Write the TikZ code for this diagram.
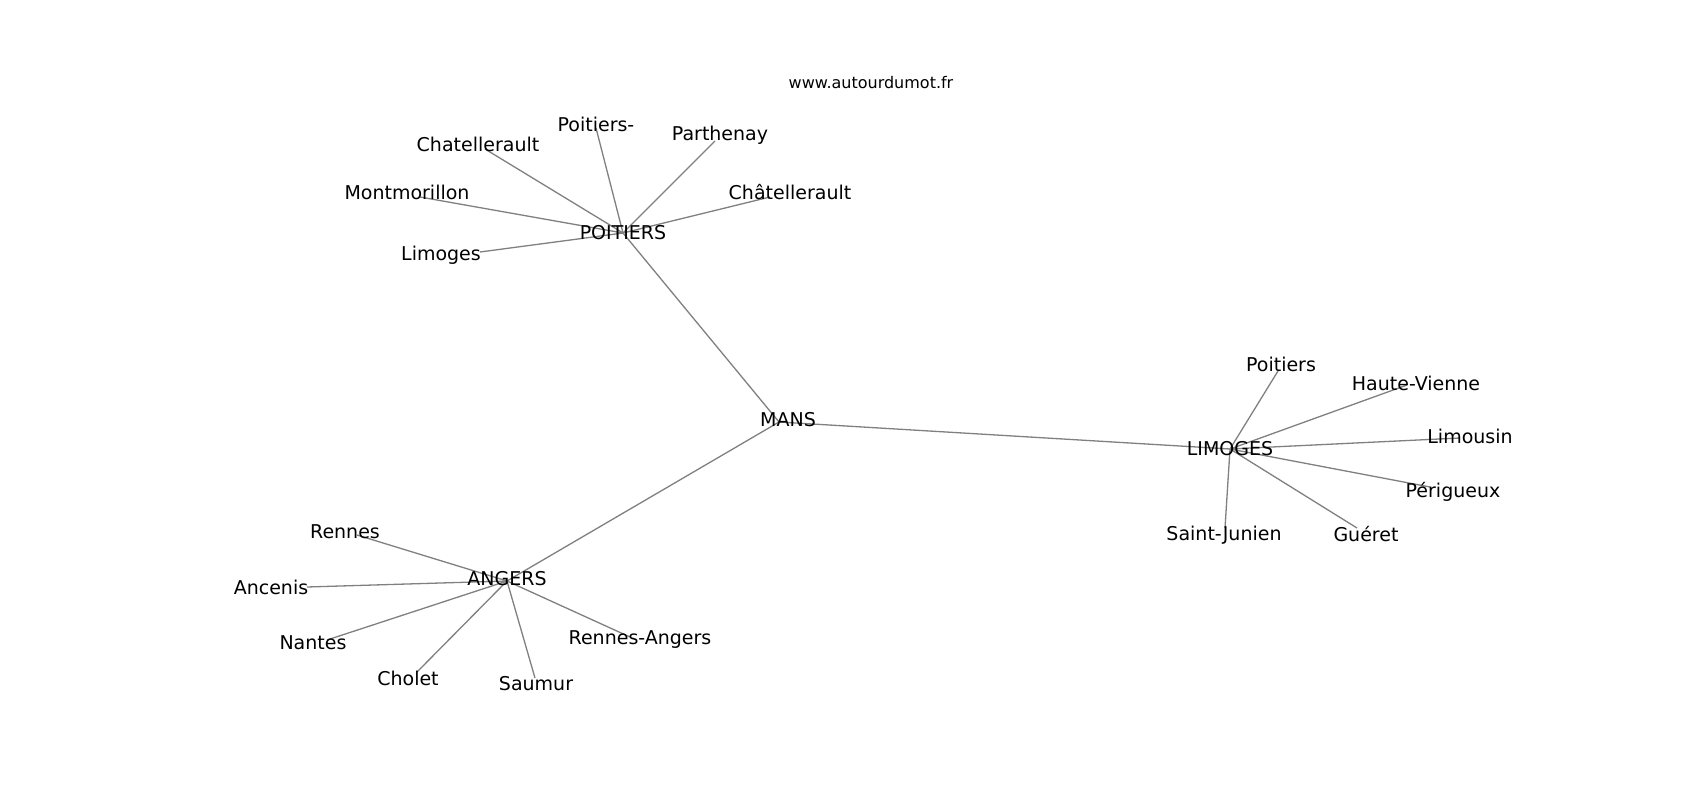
\documentclass[tikz,border=0pt]{standalone}
\usepackage{fontspec}
\setmainfont{DejaVu Sans}
\usetikzlibrary{backgrounds}
\pgfdeclarelayer{bottom}
\pgfsetlayers{bottom,background,main}
\tikzset{
  lbl/.style={inner sep=0pt, font=\fontsize{19}{19}\selectfont, text=black},
  hub/.style={lbl},
  edge/.style={draw=black!50, line width=1.3pt},
  credit/.style={inner sep=0pt, font=\fontsize{16}{16}\selectfont}
}
\begin{document}
\begin{tikzpicture}[x=1pt,y=-1pt]
\useasboundingbox (0,0) rectangle (1700,800);
\begin{pgfonlayer}{bottom}
\fill[white] (0,0) rectangle (1700,800);
\end{pgfonlayer}

\node[credit] (www) at (871,83) {www.autourdumot.fr};

% hubs
\node[hub] (poi) at (623,233) {POITIERS};
\node[hub] (mans) at (788,420) {MANS};
\coordinate (mansc) at (779,422);
\node[hub] (lim) at (1230,449) {LIMOGES};
\node[hub] (ang) at (507,579) {ANGERS};
\coordinate (angc) at (507,581);

% POITIERS leaves
\node[lbl] (p1) at (478,144) {Chatellerault};   \coordinate (p1e) at (485,149);
\node[lbl] (p2) at (596,124) {Poitiers-};       \coordinate (p2e) at (596,128);
\node[lbl] (p3) at (720,135) {Parthenay};       \coordinate (p3e) at (715,141);
\node[lbl] (p4) at (407,192) {Montmorillon};    \coordinate (p4e) at (420,197);
\node[lbl] (p5) at (790,192) {Châtellerault};   \coordinate (p5e) at (770,197);
\node[lbl] (p6) at (441,255) {Limoges};         \coordinate (p6e) at (480,252);

% LIMOGES leaves
\node[lbl] (l1) at (1281,364) {Poitiers};       \coordinate (l1e) at (1278,371);
\node[lbl] (l2) at (1416,383) {Haute-Vienne};   \coordinate (l2e) at (1407,385);
\node[lbl] (l3) at (1470,436) {Limousin};       \coordinate (l3e) at (1460,438);
\node[lbl] (l4) at (1453,492) {Périgueux};      \coordinate (l4e) at (1430,487);
\node[lbl] (l5) at (1366,534) {Guéret};         \coordinate (l5e) at (1357,528);
\node[lbl] (l6) at (1224,535) {Saint-Junien};   \coordinate (l6e) at (1225,528);

% ANGERS leaves
\node[lbl] (a1) at (345,532) {Rennes};          \coordinate (a1e) at (357,535);
\node[lbl] (a2) at (271,587) {Ancenis};         \coordinate (a2e) at (307,587);
\node[lbl] (a3) at (313,643) {Nantes};          \coordinate (a3e) at (327,640);
\node[lbl] (a4) at (408,678) {Cholet};          \coordinate (a4e) at (417,672);
\node[lbl] (a5) at (640,640) {Rennes-Angers};   \coordinate (a5e) at (630,637);
\node[lbl] (a6) at (536,684) {Saumur};          \coordinate (a6e) at (535,678);

\begin{pgfonlayer}{background}
\draw[edge] (mansc) -- (poi.center);
\draw[edge] (mansc) -- (lim.center);
\draw[edge] (mansc) -- (angc);
\foreach \i in {1,...,6} {
  \draw[edge] (poi.center) -- (p\i e);
  \draw[edge] (lim.center) -- (l\i e);
  \draw[edge] (angc) -- (a\i e);
}
\end{pgfonlayer}
\end{tikzpicture}
\end{document}
